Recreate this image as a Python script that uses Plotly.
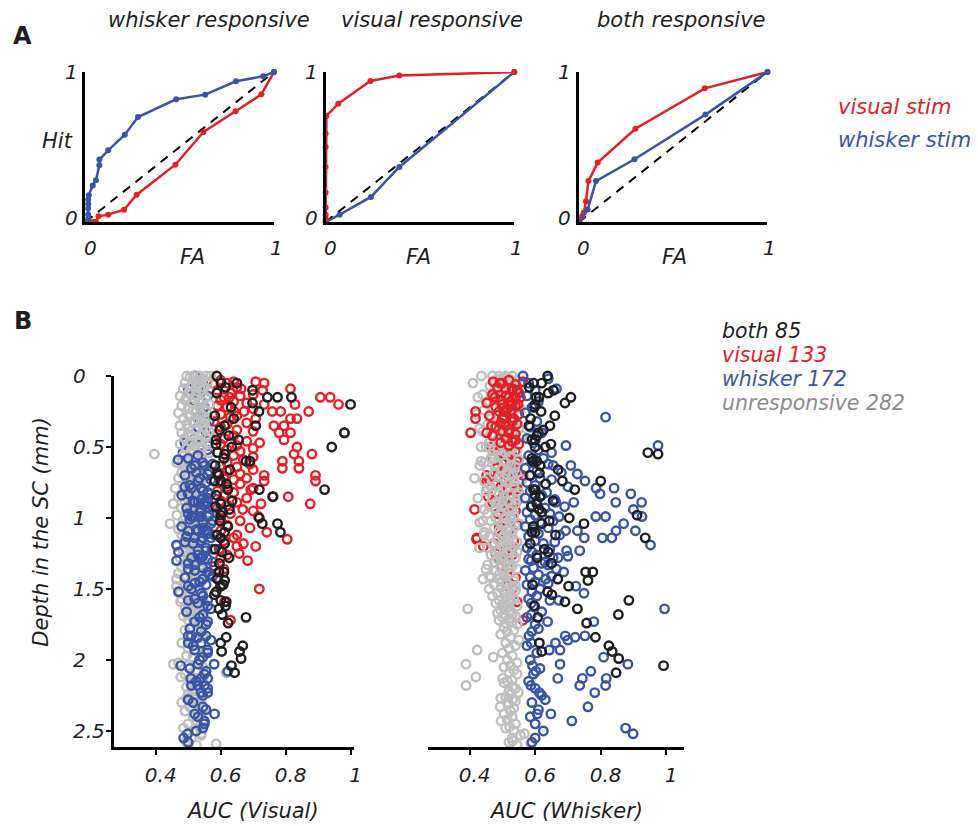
import plotly.graph_objects as go

W, H = 978, 826
RED = "rgb(226,32,38)"
BLUE = "rgb(58,84,165)"
GRAY = "rgb(190,190,190)"
BLACK = "rgb(30,30,30)"
GRAY_TXT = "rgb(140,140,140)"
FONT = "DejaVu Sans"

# ---------------- Panel A: ROC curves ----------------
a_titles = ["whisker responsive", "visual responsive", "both responsive"]

a1_whisk_fa = [0, 0.015, 0.015, 0.015, 0.015, 0.015, 0.018, 0.039, 0.056, 0.074, 0.074, 0.121, 0.209, 0.279, 0.481, 0.635, 0.798, 0.942, 1.0]
a1_whisk_hit = [0, 0.02, 0.05, 0.09, 0.12, 0.15, 0.178, 0.244, 0.278, 0.378, 0.416, 0.478, 0.582, 0.700, 0.818, 0.849, 0.938, 0.971, 1.0]
a1_vis_fa = [0, 0.02, 0.04, 0.056, 0.070, 0.121, 0.205, 0.272, 0.477, 0.626, 0.796, 0.933, 1.0]
a1_vis_hit = [0, 0, 0, 0, 0.038, 0.049, 0.082, 0.182, 0.382, 0.600, 0.738, 0.851, 1.0]

a2_whisk_fa = [0, 0.074, 0.240, 0.391, 1.0]
a2_whisk_hit = [0, 0.049, 0.167, 0.367, 1.0]
a2_vis_fa = [0, 0, 0, 0, 0, 0, 0, 0, 0.004, 0.067, 0.237, 0.391, 1.0]
a2_vis_hit = [0, 0.02, 0.049, 0.096, 0.196, 0.367, 0.5, 0.589, 0.707, 0.789, 0.940, 0.976, 1.0]

a3_whisk_fa = [0, 0.047, 0.091, 0.295, 0.671, 1.0]
a3_whisk_hit = [0, 0.084, 0.273, 0.418, 0.716, 1.0]
a3_vis_fa = [0, 0.005, 0.017, 0.026, 0.038, 0.051, 0.10, 0.30, 0.668, 1.0]
a3_vis_hit = [0, 0.01, 0.038, 0.062, 0.138, 0.273, 0.396, 0.622, 0.891, 1.0]

chance = [0, 1]
a_legend = ["visual stim", "whisker stim"]

# ---------------- Panel B: AUC vs depth ----------------
group_names = ["both", "visual", "whisker", "unresponsive"]
group_counts = [85, 133, 172, 282]

both_depth = [0.00, 0.05, 0.05, 0.10, 0.15, 0.15, 0.15, 0.19, 0.20, 0.25, 0.35, 0.35, 0.40, 0.45, 0.50, 0.45, 0.55, 0.54, 0.50, 0.60,
              0.60, 0.685, 0.74, 0.74, 0.80, 0.80, 0.85, 0.80, 0.90, 0.94, 0.98, 1.00, 1.04, 1.04, 1.10, 1.10, 1.14, 1.24, 1.38, 1.38,
              1.44, 1.43, 1.48, 1.54, 1.59, 1.58, 1.64, 1.68, 1.74, 1.70, 1.84, 1.88, 1.90, 1.94, 1.99, 2.04, 2.09, 1.94,
              0.08, 0.12, 0.22, 0.28, 0.30, 0.38, 0.42, 0.48, 0.58, 0.63, 0.66, 0.70, 0.76, 0.84, 0.88, 0.92, 0.96, 1.02, 1.06, 1.12,
              1.18, 1.22, 1.28, 1.32, 1.47, 1.52, 1.62]
both_auc_vis = [0.588, 0.601, 0.650, 0.698, 0.744, 0.775, 0.818, 0.698, 1.000, 0.718, 0.612, 0.708, 0.981, 0.586, 0.634, 0.655, 0.612, 0.590, 0.942, 0.678,
                0.690, 0.590, 0.581, 0.601, 0.622, 0.719, 0.760, 0.920, 0.601, 0.627, 0.600, 0.719, 0.728, 0.775, 0.784, 0.612, 0.600, 0.604, 0.595, 0.610,
                0.612, 0.590, 0.600, 0.581, 0.617, 0.600, 0.595, 0.605, 0.623, 0.678, 0.617, 0.600, 0.668, 0.658, 0.663, 0.633, 0.643, 0.603,
                0.615, 0.588, 0.632, 0.582, 0.640, 0.597, 0.625, 0.586, 0.610, 0.583, 0.628, 0.594, 0.618, 0.587, 0.635, 0.584, 0.606, 0.598, 0.622, 0.589,
                0.612, 0.583, 0.626, 0.596, 0.608, 0.586, 0.615]
both_auc_wh = [0.638, 0.595, 0.620, 0.656, 0.603, 0.709, 0.612, 0.691, 0.600, 0.618, 0.581, 0.645, 0.610, 0.600, 0.631, 0.590, 0.975, 0.944, 0.600, 0.593,
               0.605, 0.613, 0.683, 0.800, 0.721, 0.600, 0.615, 0.595, 0.605, 0.612, 0.911, 0.704, 0.749, 0.620, 0.600, 0.590, 0.936, 0.640, 0.754, 0.776,
               0.761, 0.669, 0.702, 0.651, 0.691, 0.886, 0.729, 0.854, 0.757, 0.608, 0.784, 0.613, 0.825, 0.835, 0.855, 0.992, 0.847, 0.620,
               0.582, 0.640, 0.598, 0.660, 0.586, 0.625, 0.605, 0.648, 0.590, 0.615, 0.670, 0.584, 0.632, 0.600, 0.655, 0.588, 0.620, 0.643, 0.594, 0.662,
               0.585, 0.628, 0.606, 0.650, 0.592, 0.638, 0.598]

vis_depth = [0.04, 0.05, 0.04, 0.09, 0.09, 0.10, 0.15, 0.15, 0.20, 0.15, 0.15, 0.19, 0.25, 0.25, 0.20, 0.25, 0.25, 0.20, 0.25, 0.30,
             0.30, 0.40, 0.30, 0.35, 0.35, 0.40, 0.45, 0.40, 0.50, 0.55, 0.55, 0.60, 0.60, 0.65, 0.65, 0.70, 0.74, 0.70, 0.74, 0.80,
             0.85, 0.85, 0.90, 0.90, 0.94, 0.99, 1.10, 1.15, 1.20, 1.20, 1.34, 1.50, 1.72, 1.59, 1.30, 1.25, 1.14,
             0.03, 0.05, 0.06, 0.08, 0.10, 0.12, 0.13, 0.14, 0.17, 0.18, 0.21, 0.22, 0.23, 0.27, 0.28, 0.29, 0.32, 0.33, 0.34, 0.36,
             0.38, 0.39, 0.41, 0.42, 0.44, 0.46, 0.47, 0.48, 0.49, 0.51, 0.52, 0.53, 0.54, 0.56, 0.57, 0.58, 0.59, 0.61, 0.62, 0.63,
             0.64, 0.66, 0.67, 0.68, 0.69, 0.71, 0.72, 0.73, 0.75, 0.76, 0.78, 0.79, 0.81, 0.82, 0.84, 0.86, 0.88, 0.89, 0.91, 0.93,
             0.95, 0.97, 1.00, 1.02, 1.05, 1.07, 1.09, 1.12, 1.16, 1.18, 1.22, 1.26, 1.28, 1.36, 1.42, 1.48]
vis_auc_vis = [0.708, 0.734, 0.640, 0.663, 0.815, 0.729, 0.907, 0.937, 0.963, 0.627, 0.610, 0.680, 0.642, 0.672, 0.734, 0.759, 0.785, 0.829, 0.871, 0.815,
               0.835, 0.981, 0.708, 0.764, 0.795, 0.780, 0.795, 0.815, 0.835, 0.881, 0.826, 0.790, 0.841, 0.790, 0.841, 0.892, 0.892, 0.734, 0.734, 0.693,
               0.762, 0.808, 0.876, 0.724, 0.668, 0.716, 0.742, 0.805, 0.708, 0.650, 0.581, 0.719, 0.630, 0.612, 0.683, 0.657, 0.640,
               0.600, 0.620, 0.580, 0.650, 0.590, 0.630, 0.700, 0.660, 0.600, 0.640, 0.590, 0.620, 0.700, 0.600, 0.650, 0.630, 0.580, 0.680, 0.620, 0.600,
               0.650, 0.700, 0.590, 0.640, 0.610, 0.680, 0.720, 0.600, 0.650, 0.700, 0.620, 0.660, 0.590, 0.640, 0.700, 0.610, 0.670, 0.620, 0.690, 0.600,
               0.650, 0.700, 0.620, 0.590, 0.660, 0.610, 0.680, 0.640, 0.600, 0.660, 0.620, 0.700, 0.590, 0.640, 0.610, 0.680, 0.600, 0.650, 0.620, 0.590,
               0.700, 0.630, 0.600, 0.660, 0.620, 0.690, 0.600, 0.650, 0.610, 0.670, 0.595, 0.620, 0.600, 0.610, 0.590, 0.600]
vis_auc_wh = [0.472, 0.492, 0.563, 0.510, 0.530, 0.545, 0.477, 0.520, 0.500, 0.540, 0.555, 0.452, 0.418, 0.505, 0.530, 0.490, 0.525, 0.548, 0.512, 0.418,
              0.500, 0.520, 0.535, 0.467, 0.510, 0.403, 0.540, 0.452, 0.467, 0.500, 0.525, 0.545, 0.510, 0.482, 0.530, 0.452, 0.505, 0.563, 0.452, 0.542,
              0.520, 0.457, 0.500, 0.535, 0.415, 0.510, 0.490, 0.421, 0.442, 0.520, 0.497, 0.530, 0.563, 0.545, 0.510, 0.480, 0.422,
              0.520, 0.500, 0.540, 0.485, 0.530, 0.550, 0.470, 0.510, 0.495, 0.525, 0.540, 0.480, 0.515, 0.550, 0.460, 0.505, 0.530, 0.495, 0.545, 0.480,
              0.520, 0.500, 0.540, 0.470, 0.510, 0.530, 0.495, 0.550, 0.520, 0.480, 0.505, 0.540, 0.490, 0.530, 0.515, 0.470, 0.545, 0.500, 0.525, 0.540,
              0.480, 0.510, 0.495, 0.530, 0.550, 0.485, 0.520, 0.460, 0.505, 0.535, 0.495, 0.545, 0.515, 0.480, 0.530, 0.505, 0.545, 0.470, 0.520, 0.500,
              0.540, 0.485, 0.530, 0.510, 0.545, 0.490, 0.520, 0.500, 0.535, 0.475, 0.510, 0.530, 0.490, 0.520, 0.540, 0.515]

wh_depth = [0.00, 0.02, 0.09, 0.29, 0.49, 0.49, 0.54, 0.59, 0.63, 0.63, 0.74, 0.69, 0.79, 0.79, 0.83, 0.89, 0.83, 0.89, 0.89, 0.89,
            0.94, 0.99, 1.04, 1.09, 1.09, 0.99, 0.99, 0.99, 1.09, 1.09, 1.14, 1.14, 1.14, 1.19, 1.23, 1.23, 1.28, 1.28, 1.30, 1.38,
            1.33, 1.43, 1.48, 1.53, 1.58, 1.58, 1.60, 1.64, 1.73, 1.68, 1.83, 1.83, 1.84, 1.86, 1.83, 1.73, 1.88, 1.93, 1.93, 1.88,
            1.98, 2.03, 2.03, 2.04, 2.08, 2.13, 2.13, 2.08, 2.13, 2.18, 2.18, 2.18, 2.23, 2.23, 2.28, 2.33, 2.38, 2.38, 2.43, 2.48,
            2.52, 2.55,
            0.05, 0.10, 0.14, 0.18, 0.22, 0.26, 0.32, 0.36, 0.40, 0.44, 0.47, 0.52, 0.56, 0.58, 0.61, 0.65, 0.67, 0.70, 0.72, 0.75,
            0.77, 0.81, 0.84, 0.86, 0.88, 0.91, 0.93, 0.96, 0.98, 1.01, 1.03, 1.06, 1.08, 1.11, 1.13, 1.16, 1.18, 1.21, 1.24, 1.26,
            1.29, 1.32, 1.35, 1.37, 1.40, 1.42, 1.45, 1.47, 1.50, 1.52, 1.55, 1.57, 1.62, 1.66, 1.70, 1.75, 1.78, 1.80, 1.90, 1.95,
            2.00, 2.06, 2.10, 2.15, 2.20, 2.25, 2.30, 2.35, 2.40, 2.45, 2.50, 2.58,
            0.62, 0.68, 0.73, 0.78, 0.82, 0.87, 0.92, 0.97, 1.02, 1.07, 1.12, 1.17, 1.22, 1.27, 1.31, 1.36, 1.41, 1.46]
wh_auc_vis = [0.520, 0.540, 0.500, 0.530, 0.540, 0.560, 0.484, 0.469, 0.520, 0.550, 0.530, 0.560, 0.510, 0.540, 0.570, 0.520, 0.500, 0.550, 0.530, 0.560,
              0.540, 0.510, 0.570, 0.530, 0.550, 0.560, 0.520, 0.540, 0.500, 0.560, 0.520, 0.545, 0.570, 0.464, 0.530, 0.555, 0.510, 0.540, 0.464, 0.560,
              0.520, 0.545, 0.500, 0.540, 0.500, 0.560, 0.530, 0.570, 0.520, 0.545, 0.510, 0.555, 0.530, 0.570, 0.500, 0.560, 0.540, 0.520, 0.560, 0.500,
              0.545, 0.580, 0.530, 0.477, 0.555, 0.508, 0.540, 0.622, 0.560, 0.530, 0.550, 0.510, 0.540, 0.560, 0.500, 0.545, 0.581, 0.520, 0.550, 0.545,
              0.498, 0.486,
              0.545, 0.530, 0.560, 0.520, 0.550, 0.540, 0.565, 0.530, 0.555, 0.520, 0.490, 0.560, 0.530, 0.500, 0.545, 0.510, 0.565, 0.490, 0.535, 0.555,
              0.505, 0.545, 0.480, 0.560, 0.515, 0.550, 0.495, 0.535, 0.565, 0.505, 0.545, 0.480, 0.525, 0.560, 0.495, 0.540, 0.515, 0.555, 0.470, 0.530,
              0.560, 0.500, 0.545, 0.520, 0.565, 0.490, 0.535, 0.555, 0.510, 0.470, 0.545, 0.520, 0.560, 0.495, 0.535, 0.555, 0.505, 0.540, 0.515, 0.560,
              0.535, 0.505, 0.550, 0.525, 0.560, 0.545, 0.515, 0.555, 0.530, 0.550, 0.525, 0.500,
              0.575, 0.525, 0.570, 0.490, 0.560, 0.540, 0.575, 0.500, 0.575, 0.545, 0.580, 0.490, 0.575, 0.545, 0.575, 0.500, 0.575, 0.520]
wh_auc_wh = [0.563, 0.640, 0.665, 0.815, 0.694, 0.975, 0.650, 0.600, 0.709, 0.655, 0.752, 0.729, 0.786, 0.841, 0.892, 0.925, 0.798, 0.846, 0.718, 0.663,
             0.900, 0.926, 0.870, 0.906, 0.847, 0.815, 0.785, 0.673, 0.693, 0.729, 0.750, 0.805, 0.834, 0.952, 0.736, 0.696, 0.655, 0.670, 0.588, 0.687,
             0.640, 0.632, 0.724, 0.749, 0.672, 0.645, 0.588, 0.995, 0.638, 0.588, 0.581, 0.692, 0.722, 0.700, 0.752, 0.779, 0.588, 0.643, 0.676, 0.662,
             0.809, 0.883, 0.676, 0.592, 0.602, 0.669, 0.744, 0.770, 0.817, 0.736, 0.815, 0.587, 0.613, 0.782, 0.631, 0.761, 0.606, 0.648, 0.712, 0.876,
             0.899, 0.600,
             0.580, 0.600, 0.575, 0.610, 0.590, 0.570, 0.605, 0.585, 0.620, 0.575, 0.595, 0.610, 0.580, 0.625, 0.590, 0.570, 0.605, 0.585, 0.615, 0.575,
             0.600, 0.585, 0.620, 0.570, 0.605, 0.590, 0.630, 0.575, 0.600, 0.585, 0.615, 0.570, 0.595, 0.610, 0.580, 0.600, 0.625, 0.575, 0.590, 0.605,
             0.580, 0.620, 0.595, 0.570, 0.610, 0.585, 0.600, 0.575, 0.615, 0.590, 0.605, 0.580, 0.595, 0.620, 0.575, 0.600, 0.610, 0.590, 0.575, 0.605,
             0.585, 0.615, 0.595, 0.580, 0.600, 0.620, 0.590, 0.610, 0.585, 0.600, 0.625, 0.590,
             0.640, 0.680, 0.650, 0.700, 0.635, 0.660, 0.690, 0.645, 0.655, 0.640, 0.675, 0.660, 0.645, 0.700, 0.630, 0.665, 0.650, 0.640]

unr_depth = [0.00, 0.00, 0.00, 0.00, 0.00, 0.01, 0.02, 0.03, 0.04, 0.05, 0.06, 0.07, 0.08, 0.09, 0.10, 0.11, 0.12, 0.13, 0.14, 0.15,
             0.16, 0.17, 0.18, 0.19, 0.20, 0.21, 0.22, 0.23, 0.24, 0.25, 0.26, 0.27, 0.28, 0.29, 0.30, 0.31, 0.32, 0.33, 0.34, 0.35,
             0.36, 0.37, 0.38, 0.39, 0.40, 0.41, 0.42, 0.43, 0.44, 0.45, 0.46, 0.47, 0.48, 0.49, 0.50, 0.51, 0.52, 0.53, 0.54, 0.55,
             0.56, 0.57, 0.58, 0.59, 0.60, 0.61, 0.62, 0.63, 0.64, 0.65, 0.66, 0.67, 0.68, 0.69, 0.70, 0.71, 0.72, 0.73, 0.74, 0.75,
             0.76, 0.77, 0.78, 0.79, 0.80, 0.81, 0.82, 0.83, 0.84, 0.85, 0.86, 0.87, 0.88, 0.89, 0.90, 0.91, 0.92, 0.93, 0.94, 0.95,
             0.96, 0.97, 0.98, 0.99, 1.00, 1.01, 1.02, 1.03, 1.04, 1.05, 1.06, 1.07, 1.08, 1.09, 1.10, 1.11, 1.12, 1.13, 1.14, 1.15,
             1.16, 1.17, 1.18, 1.19, 1.20, 1.21, 1.22, 1.23, 1.24, 1.25, 1.26, 1.27, 1.28, 1.29, 1.30, 1.31, 1.32, 1.33, 1.34, 1.35,
             1.36, 1.37, 1.38, 1.39, 1.40, 1.41, 1.42, 1.43, 1.44, 1.45, 1.46, 1.47, 1.48, 1.49, 1.50, 1.51, 1.52, 1.53, 1.54, 1.55,
             1.56, 1.57, 1.58, 1.59, 1.60, 1.61, 1.62, 1.63, 1.64, 1.65, 1.66, 1.67, 1.68, 1.69, 1.70, 1.71, 1.72, 1.73, 1.74, 1.75,
             1.77, 1.79, 1.80, 1.82, 1.84, 1.86, 1.88, 1.90, 1.92, 1.93, 1.95, 1.97, 1.98, 2.00, 2.02, 2.03, 2.04, 2.05, 2.07, 2.09,
             2.10, 2.12, 2.13, 2.14, 2.15, 2.16, 2.18, 2.19, 2.20, 2.22, 2.23, 2.24, 2.26, 2.27, 2.28, 2.29, 2.30, 2.31, 2.33, 2.34,
             2.36, 2.38, 2.40, 2.42, 2.43, 2.45, 2.47, 2.48, 2.50, 2.52, 2.53, 2.55, 2.57, 2.58, 2.59, 2.60,
             0.03, 0.08, 0.12, 0.19, 0.24, 0.30, 0.33, 0.41, 0.47, 0.52, 0.58, 0.63, 0.69, 0.74, 0.79, 0.84, 0.88, 0.93, 0.99, 1.04,
             1.09, 1.14, 1.19, 1.24, 1.29, 1.33, 1.38, 1.43, 1.48, 1.53, 1.58, 1.63, 1.68, 0.15, 0.37, 0.61, 0.86, 1.02, 1.21, 1.41,
             0.05, 0.27, 0.50, 0.72, 1.12, 1.36]
unr_auc_vis = [0.495, 0.515, 0.535, 0.555, 0.570, 0.505, 0.545, 0.525, 0.560, 0.490, 0.530, 0.510, 0.550, 0.485, 0.540, 0.565, 0.500, 0.525, 0.475, 0.555,
               0.520, 0.490, 0.545, 0.510, 0.565, 0.480, 0.535, 0.500, 0.555, 0.525, 0.470, 0.540, 0.505, 0.560, 0.485, 0.530, 0.515, 0.550, 0.495, 0.474,
               0.545, 0.500, 0.525, 0.565, 0.480, 0.540, 0.510, 0.555, 0.490, 0.530, 0.505, 0.560, 0.475, 0.520, 0.545, 0.495, 0.535, 0.510, 0.565, 0.396,
               0.485, 0.520, 0.540, 0.500, 0.515, 0.465, 0.530, 0.505, 0.545, 0.490, 0.515, 0.535, 0.480, 0.545, 0.500, 0.525, 0.470, 0.510, 0.540, 0.495,
               0.530, 0.500, 0.520, 0.460, 0.545, 0.515, 0.485, 0.535, 0.505, 0.470, 0.525, 0.500, 0.545, 0.490, 0.454, 0.520, 0.535, 0.480, 0.510, 0.540,
               0.500, 0.525, 0.465, 0.530, 0.505, 0.545, 0.485, 0.515, 0.444, 0.535, 0.495, 0.520, 0.470, 0.540, 0.505, 0.525, 0.480, 0.545, 0.500, 0.515,
               0.535, 0.490, 0.520, 0.500, 0.465, 0.530, 0.510, 0.545, 0.485, 0.515, 0.500, 0.540, 0.475, 0.525, 0.505, 0.545, 0.490, 0.515, 0.535, 0.480,
               0.520, 0.500, 0.530, 0.470, 0.545, 0.510, 0.495, 0.464, 0.520, 0.540, 0.485, 0.515, 0.464, 0.530, 0.500, 0.525, 0.475, 0.545, 0.505, 0.495,
               0.535, 0.480, 0.545, 0.477, 0.520, 0.500, 0.550, 0.490, 0.525, 0.510, 0.540, 0.495, 0.530, 0.485, 0.550, 0.515, 0.500, 0.535, 0.520, 0.545,
               0.510, 0.490, 0.530, 0.545, 0.505, 0.520, 0.480, 0.540, 0.500, 0.525, 0.550, 0.495, 0.515, 0.535, 0.470, 0.454, 0.500, 0.545, 0.525, 0.617,
               0.490, 0.477, 0.530, 0.510, 0.545, 0.505, 0.520, 0.495, 0.555, 0.515, 0.535, 0.500, 0.520, 0.495, 0.540, 0.510, 0.480, 0.525, 0.505, 0.550,
               0.490, 0.530, 0.515, 0.545, 0.525, 0.500, 0.535, 0.485, 0.520, 0.540, 0.540, 0.510, 0.495, 0.495, 0.586, 0.525,
               0.540, 0.525, 0.505, 0.535, 0.515, 0.550, 0.520, 0.500, 0.530, 0.510, 0.525, 0.505, 0.490, 0.520, 0.535, 0.495, 0.510, 0.525, 0.490, 0.515,
               0.530, 0.490, 0.510, 0.535, 0.500, 0.520, 0.505, 0.540, 0.490, 0.515, 0.510, 0.540, 0.520, 0.495, 0.555, 0.480, 0.540, 0.560, 0.490, 0.535,
               0.525, 0.500, 0.540, 0.515, 0.530, 0.505]
unr_auc_wh = [0.436, 0.470, 0.490, 0.510, 0.530, 0.500, 0.520, 0.545, 0.480, 0.555, 0.505, 0.462, 0.535, 0.490, 0.550, 0.475, 0.515, 0.440, 0.500, 0.525,
              0.485, 0.540, 0.460, 0.510, 0.495, 0.530, 0.470, 0.555, 0.445, 0.505, 0.520, 0.480, 0.545, 0.500, 0.465, 0.535, 0.490, 0.515, 0.455, 0.525,
              0.475, 0.550, 0.505, 0.440, 0.530, 0.495, 0.560, 0.470, 0.515, 0.485, 0.540, 0.460, 0.520, 0.500, 0.450, 0.530, 0.485, 0.545, 0.510, 0.470,
              0.495, 0.525, 0.465, 0.550, 0.435, 0.510, 0.480, 0.431, 0.540, 0.500, 0.455, 0.515, 0.545, 0.475, 0.530, 0.490, 0.505, 0.560, 0.445, 0.520,
              0.485, 0.535, 0.465, 0.510, 0.500, 0.450, 0.550, 0.490, 0.525, 0.505, 0.470, 0.545, 0.515, 0.480, 0.540, 0.460, 0.500, 0.530, 0.445, 0.520,
              0.495, 0.455, 0.535, 0.510, 0.480, 0.525, 0.465, 0.431, 0.550, 0.500, 0.540, 0.475, 0.515, 0.490, 0.445, 0.530, 0.505, 0.460, 0.520, 0.485,
              0.510, 0.545, 0.470, 0.500, 0.535, 0.455, 0.490, 0.525, 0.480, 0.515, 0.465, 0.500, 0.540, 0.485, 0.520, 0.475, 0.510, 0.455, 0.530, 0.495,
              0.545, 0.480, 0.272, 0.520, 0.490, 0.505, 0.465, 0.441, 0.535, 0.500, 0.515, 0.475, 0.530, 0.495, 0.460, 0.540, 0.505, 0.485, 0.525, 0.470,
              0.510, 0.535, 0.490, 0.520, 0.480, 0.500, 0.545, 0.515, 0.394, 0.495, 0.525, 0.485, 0.505, 0.540, 0.500, 0.520, 0.490, 0.530, 0.510, 0.545,
              0.505, 0.535, 0.515, 0.495, 0.525, 0.550, 0.510, 0.540, 0.520, 0.423, 0.500, 0.530, 0.472, 0.515, 0.545, 0.389, 0.525, 0.505, 0.535, 0.520,
              0.545, 0.419, 0.501, 0.530, 0.515, 0.505, 0.389, 0.531, 0.540, 0.520, 0.549, 0.525, 0.510, 0.495, 0.531, 0.540, 0.515, 0.520, 0.493, 0.535,
              0.525, 0.505, 0.530, 0.515, 0.496, 0.540, 0.522, 0.510, 0.535, 0.567, 0.555, 0.530, 0.531, 0.520, 0.587, 0.545,
              0.500, 0.520, 0.540, 0.455, 0.530, 0.510, 0.545, 0.475, 0.505, 0.520, 0.475, 0.525, 0.510, 0.535, 0.455, 0.545, 0.500, 0.480, 0.525, 0.510,
              0.525, 0.500, 0.515, 0.545, 0.495, 0.520, 0.505, 0.490, 0.540, 0.510, 0.525, 0.505, 0.530, 0.425, 0.430, 0.445, 0.425, 0.440, 0.430, 0.460,
              0.410, 0.420, 0.435, 0.415, 0.445, 0.450]

b_x_ticks = [0.4, 0.6, 0.8, 1.0]
b_x_ticktext = ["0.4", "0.6", "0.8", "1"]
b_y_ticks = [0, 0.5, 1, 1.5, 2, 2.5]
b_y_ticktext = ["0", "0.5", "1", "1.5", "2", "2.5"]

# ---------------- figure ----------------
def fx(p):
    return p / W


def fy(p):
    return 1 - p / H


def subset(depth, vals, lo, hi):
    keep = [i for i, d in enumerate(depth) if lo <= d < hi]
    return [vals[i] for i in keep], [depth[i] for i in keep]


fig = go.Figure()

roc_sets = [
    (a1_whisk_fa, a1_whisk_hit, a1_vis_fa, a1_vis_hit),
    (a2_whisk_fa, a2_whisk_hit, a2_vis_fa, a2_vis_hit),
    (a3_whisk_fa, a3_whisk_hit, a3_vis_fa, a3_vis_hit),
]
for i, (wf, wh, vf, vh) in enumerate(roc_sets):
    xa, ya = f"x{i + 1}" if i else "x", f"y{i + 1}" if i else "y"
    fig.add_trace(go.Scatter(x=chance, y=chance, mode="lines", xaxis=xa, yaxis=ya,
                             line=dict(color="black", width=2, dash="9px,7px"), cliponaxis=False,
                             hoverinfo="skip", showlegend=False))
    if i == 1:
        order = [(wf, wh, BLUE), (vf, vh, RED)]
    else:
        order = [(vf, vh, RED), (wf, wh, BLUE)]
    for fa, hit, col in order:
        fig.add_trace(go.Scatter(x=fa, y=hit, mode="lines+markers", xaxis=xa, yaxis=ya,
                                 line=dict(color=col, width=2.5), marker=dict(color=col, size=6),
                                 cliponaxis=False, showlegend=False))

# drawing order per panel: (depth list, value list, colour, depth window)
left_order = [
    (vis_depth, vis_auc_vis, RED, 0, 9),
    (wh_depth, wh_auc_vis, BLUE, 0, 0.55),
    (unr_depth, unr_auc_vis, GRAY, 0, 9),
    (wh_depth, wh_auc_vis, BLUE, 0.55, 9),
    (both_depth, both_auc_vis, BLACK, 0, 9),
]
right_order = [
    (vis_depth, vis_auc_wh, RED, 0.5, 9),
    (unr_depth, unr_auc_wh, GRAY, 0, 9),
    (vis_depth, vis_auc_wh, RED, 0, 0.5),
    (wh_depth, wh_auc_wh, BLUE, 0, 9),
    (both_depth, both_auc_wh, BLACK, 0, 9),
]
for order, xa, ya in [(left_order, "x4", "y4"), (right_order, "x5", "y5")]:
    for depth, vals, col, lo, hi in order:
        xv, yv = subset(depth, vals, lo, hi)
        fig.add_trace(go.Scatter(x=xv, y=yv, mode="markers", xaxis=xa, yaxis=ya,
                                 marker=dict(symbol="circle-open", size=8.5, color=col, line=dict(width=2.4, color=col)),
                                 cliponaxis=False, showlegend=False))

A_left = [86, 328, 583]
A_w = 190
A_top, A_bot = 72, 222

layout = dict(width=W, height=H, margin=dict(l=0, r=0, t=0, b=0), plot_bgcolor="white", paper_bgcolor="white",
              font=dict(family=FONT, color=BLACK), showlegend=False)

axA = dict(range=[0, 1], showline=True, linecolor="black", linewidth=2.5, showgrid=False, zeroline=False,
           showticklabels=False, ticks="", fixedrange=True)
for i, left in enumerate(A_left):
    sx = "" if i == 0 else str(i + 1)
    layout["xaxis" + sx] = dict(axA, domain=[fx(left), fx(left + A_w)], anchor="y" + sx)
    layout["yaxis" + sx] = dict(axA, domain=[fy(A_bot), fy(A_top)], anchor="x" + sx)

B_top, B_bot = 376, 747
tickfont = dict(family=FONT, size=20, color=BLACK)
layout["xaxis4"] = dict(domain=[fx(115), fx(357)], range=[0.272, 1.012], anchor="y4", showline=True, linecolor="black",
                        linewidth=2.5, showgrid=False, zeroline=False, ticks="outside", ticklen=5, tickwidth=2,
                        tickcolor="black", tickvals=b_x_ticks, ticktext=[f"<i>{t}</i>" for t in b_x_ticktext],
                        tickfont=tickfont, ticklabelshift=5, ticklabelstandoff=3)
layout["yaxis4"] = dict(domain=[fy(B_bot), fy(B_top)], range=[2.613, 0], anchor="x4", showline=True, linecolor="black",
                        linewidth=2.5, showgrid=False, zeroline=False, ticks="outside", ticklen=5, tickwidth=2,
                        tickcolor="black", tickvals=b_y_ticks, showticklabels=False)
layout["xaxis5"] = dict(domain=[fx(431), fx(689)], range=[0.2727, 1.0545], anchor="y5", showline=True, linecolor="black",
                        linewidth=2.5, showgrid=False, zeroline=False, ticks="outside", ticklen=5, tickwidth=2,
                        tickcolor="black", tickvals=b_x_ticks, ticktext=[f"<i>{t}</i>" for t in b_x_ticktext],
                        tickfont=tickfont, ticklabelshift=5, ticklabelstandoff=3)
layout["yaxis5"] = dict(domain=[fy(B_bot), fy(B_top)], range=[2.613, 0], anchor="x5", showline=False,
                        showgrid=False, zeroline=False, ticks="", showticklabels=False)

ann = []


def text(x, y, s, size=21, color=BLACK, anchor="center", italic=True, bold=False, **kw):
    t = f"<i>{s}</i>" if italic else s
    if bold:
        t = f"<b>{s}</b>"
    d = dict(x=x, y=y, text=t, showarrow=False, xanchor=anchor, yanchor="middle",
             font=dict(family=FONT, size=size, color=color))
    d.setdefault("xref", "paper")
    d.setdefault("yref", "paper")
    d.update(kw)
    ann.append(d)


# panel letters
text(fx(23), fy(36), "A", size=24, italic=False, bold=True)
text(fx(23), fy(321), "B", size=24, italic=False, bold=True)

# panel A titles and labels
title_cx = [211, 435, 686]
fa_cx = [194, 422, 679]
for i, left in enumerate(A_left):
    sx = "" if i == 0 else str(i + 1)
    text(fx(title_cx[i]), fy(20), a_titles[i])
    text(fx(fa_cx[i]), fy(257), "FA")
    text(0, 1, "1", size=20, xref="x" + sx, yref="y" + sx, xshift=-14, yshift=0)
    text(0, 0, "0", size=20, xref="x" + sx, yref="y" + sx, xshift=-14, yshift=4)
    text(0, 0, "0", size=20, xref="x" + sx, yref="y" + sx, xshift=5, yshift=-26)
    text(1, 0, "1", size=20, xref="x" + sx, yref="y" + sx, xshift=2, yshift=-26)
text(fx(58), fy(141), "Hit")
text(fx(842), fy(107), a_legend[0], color=RED, anchor="left")
text(fx(842), fy(140), a_legend[1], color=BLUE, anchor="left")

# panel B labels
for v, t in zip(b_y_ticks, b_y_ticktext):
    text(fx(72), v, t, size=20, anchor="left", yref="y4")
text(fx(41), fy(532), "Depth in the SC (mm)", textangle=-90)
text(fx(254), fy(811), "AUC (Visual)")
text(fx(570), fy(811), "AUC (Whisker)")

leg_colors = [BLACK, RED, BLUE, GRAY_TXT]
leg_y = [331, 355, 379, 403]
for name, n, c, yy in zip(group_names, group_counts, leg_colors, leg_y):
    text(fx(725), fy(yy), f"{name} {n}", size=20.5, color=c, anchor="left")

layout["annotations"] = ann
fig.update_layout(**layout)
fig.write_html("out.html")
